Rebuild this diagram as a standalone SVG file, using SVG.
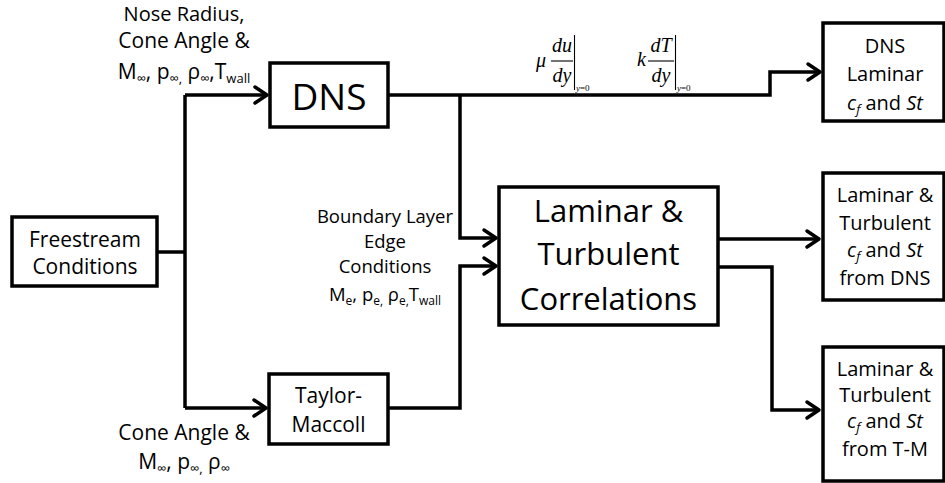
<svg xmlns="http://www.w3.org/2000/svg" width="945" height="483" viewBox="0 0 945 483">
<defs>
<style>
.box{fill:#fff;stroke:#000;stroke-width:3.5}
.t{font-family:"Open Sans","Noto Sans",sans-serif;fill:#000;text-anchor:middle}
.s21{font-size:21px}
.s20{font-size:20px}
.s19{font-size:18.5px}
.m{font-family:"Liberation Serif","Times New Roman",serif;font-style:italic;fill:#000}
.conn{fill:none;stroke:#000;stroke-width:3.5;stroke-linejoin:miter}
.thin{stroke:#000;stroke-width:1.1;fill:none}
</style>
<marker id="ah" markerUnits="userSpaceOnUse" markerWidth="20" markerHeight="20" viewBox="-15 -10 17 20" refX="0" refY="0" orient="auto" overflow="visible">
<path d="M-12,-8 L0,0 L-12,8" fill="none" stroke="#000" stroke-width="3.5" stroke-linecap="round" stroke-linejoin="round"/>
</marker>
</defs>
<rect width="945" height="483" fill="#fff"/>

<g id="connectors">
<path class="conn" d="M157,252 H185"/>
<path class="conn" d="M185,95 V408"/>
<path class="conn" d="M185,95 H267" marker-end="url(#ah)"/>
<path class="conn" d="M185,408 H266" marker-end="url(#ah)"/>
<path class="conn" d="M388,95 H770 V72 H820" marker-end="url(#ah)"/>
<path class="conn" d="M460,95 V238 H496" marker-end="url(#ah)"/>
<path class="conn" d="M388,408 H460 V266 H496" marker-end="url(#ah)"/>
<path class="conn" d="M718,239 H819" marker-end="url(#ah)"/>
<path class="conn" d="M718,267 H772 V410 H819" marker-end="url(#ah)"/>
</g>

<g id="freestream">
<rect class="box" x="12" y="217" width="145" height="69"/>
<text class="t s21" x="85" y="247">Freestream</text>
<text class="t s21" x="85" y="274">Conditions</text>
</g>

<g id="dns">
<rect class="box" x="270" y="63" width="118" height="64"/>
<text class="t" x="329" y="110" font-size="37">DNS</text>
</g>

<g id="taylor-maccoll">
<rect class="box" x="269" y="374" width="119" height="70"/>
<text class="t s21" x="328.5" y="403">Taylor-</text>
<text class="t s21" x="328.5" y="432">Maccoll</text>
</g>

<g id="correlations">
<rect class="box" x="499" y="187" width="219" height="138"/>
<text class="t" x="608.5" y="222" font-size="31">Laminar &amp;</text>
<text class="t" x="608.5" y="265" font-size="31">Turbulent</text>
<text class="t" x="608.5" y="310" font-size="31">Correlations</text>
</g>

<g id="dns-laminar">
<rect class="box" x="823" y="23" width="121" height="98"/>
<text class="t s20" x="885" y="53">DNS</text>
<text class="t s20" x="885" y="81">Laminar</text>
<text class="t s20" x="885" y="110"><tspan font-style="italic">c</tspan><tspan font-style="italic" font-size="13" dy="4">f</tspan><tspan dy="-4"> and </tspan><tspan font-style="italic">St</tspan></text>
</g>

<g id="lt-dns">
<rect class="box" x="823" y="173" width="121" height="127"/>
<text class="t s20" x="885" y="202">Laminar &amp;</text>
<text class="t s20" x="885" y="230">Turbulent</text>
<text class="t s20" x="885" y="257"><tspan font-style="italic">c</tspan><tspan font-style="italic" font-size="13" dy="4">f</tspan><tspan dy="-4"> and </tspan><tspan font-style="italic">St</tspan></text>
<text class="t s20" x="885" y="285">from DNS</text>
</g>

<g id="lt-tm">
<rect class="box" x="823" y="347" width="121" height="134"/>
<text class="t s20" x="885" y="376">Laminar &amp;</text>
<text class="t s20" x="885" y="402">Turbulent</text>
<text class="t s20" x="885" y="428"><tspan font-style="italic">c</tspan><tspan font-style="italic" font-size="13" dy="4">f</tspan><tspan dy="-4"> and </tspan><tspan font-style="italic">St</tspan></text>
<text class="t s20" x="885" y="456">from T-M</text>
</g>

<g id="labels">
<text class="t s20" x="184" y="21">Nose Radius,</text>
<text class="t s21" x="184" y="48">Cone Angle &amp;</text>
<text class="t s21" x="184" y="79">M<tspan font-size="13" dy="4">∞</tspan><tspan dy="-4">, p</tspan><tspan font-size="13" dy="4">∞,</tspan><tspan dy="-4"> ρ</tspan><tspan font-size="13" dy="4">∞</tspan><tspan dy="-4">,T</tspan><tspan font-size="13" dy="4">wall</tspan></text>

<text class="t s21" x="184" y="440">Cone Angle &amp;</text>
<text class="t s21" x="184" y="469">M<tspan font-size="13" dy="4">∞</tspan><tspan dy="-4">, p</tspan><tspan font-size="13" dy="4">∞,</tspan><tspan dy="-4"> ρ</tspan><tspan font-size="13" dy="4">∞</tspan></text>

<text class="t s19" x="385" y="223">Boundary Layer</text>
<text class="t s19" x="385" y="248">Edge</text>
<text class="t s19" x="385" y="273">Conditions</text>
<text class="t s19" x="385" y="301">M<tspan font-size="12" dy="4">e</tspan><tspan dy="-4">, p</tspan><tspan font-size="12" dy="4">e,</tspan><tspan dy="-4"> ρ</tspan><tspan font-size="12" dy="4">e,</tspan><tspan dy="-4">T</tspan><tspan font-size="12" dy="4">wall</tspan></text>

<text class="m" x="536" y="67" font-size="20">μ</text>
<text class="m" x="562" y="52" font-size="20" text-anchor="middle">du</text>
<line class="thin" x1="551" y1="61" x2="573" y2="61"/>
<text class="m" x="562" y="82" font-size="20" text-anchor="middle">dy</text>
<line class="thin" x1="574.5" y1="35" x2="574.5" y2="90"/>
<text class="m" x="576" y="91" font-size="9">y<tspan font-style="normal">=0</tspan></text>

<text class="m" x="637" y="66" font-size="20">k</text>
<text class="m" x="661" y="52" font-size="20" text-anchor="middle">dT</text>
<line class="thin" x1="648" y1="61" x2="674" y2="61"/>
<text class="m" x="661" y="82" font-size="20" text-anchor="middle">dy</text>
<line class="thin" x1="675.5" y1="35" x2="675.5" y2="90"/>
<text class="m" x="677" y="91" font-size="9">y<tspan font-style="normal">=0</tspan></text>
</g>
</svg>
